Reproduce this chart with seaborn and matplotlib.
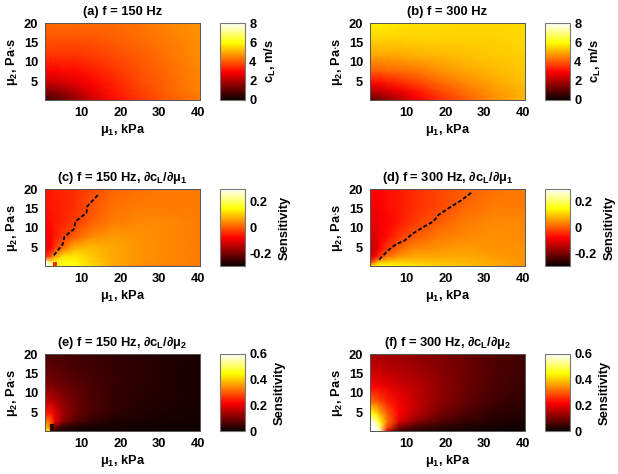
import numpy as np
import pandas as pd
import matplotlib
matplotlib.use("Agg")
import matplotlib.pyplot as plt
import seaborn as sns

sns.set_style("white")
plt.rcParams.update({
    "font.family": ["Liberation Sans", "DejaVu Sans"],
    "font.weight": "bold",
    "text.color": "black",
    "axes.labelcolor": "black",
    "xtick.color": "black",
    "ytick.color": "black",
    "mathtext.fontset": "custom",
    "mathtext.rm": "Liberation Sans:bold",
    "mathtext.sf": "Liberation Sans",
    "mathtext.it": "Liberation Sans:italic:bold",
    "mathtext.bf": "Liberation Sans:bold",
    "mathtext.default": "rm",
    "axes.unicode_minus": False,
})

mu1_grid = [0.5, 2, 3, 5, 8, 12, 18, 25, 32, 40.5]
mu2_grid = [0.5, 1.5, 3, 5, 8, 12, 16, 20.5]

vals_a = [
    [0.7, 0.9, 1.0, 1.2, 1.6, 2.3, 3.0, 3.5, 4.0, 4.4],
    [1.0, 1.1, 1.2, 1.4, 1.8, 2.4, 3.1, 3.6, 4.0, 4.4],
    [1.5, 1.5, 1.6, 1.8, 2.1, 2.6, 3.2, 3.7, 4.1, 4.5],
    [2.2, 2.2, 2.3, 2.4, 2.6, 2.9, 3.3, 3.8, 4.1, 4.5],
    [2.9, 2.9, 2.9, 3.0, 3.0, 3.2, 3.5, 3.9, 4.2, 4.5],
    [3.5, 3.5, 3.5, 3.5, 3.5, 3.6, 3.8, 4.0, 4.3, 4.6],
    [3.9, 3.9, 3.9, 3.9, 3.9, 3.9, 4.0, 4.2, 4.4, 4.6],
    [4.2, 4.2, 4.2, 4.2, 4.2, 4.2, 4.2, 4.3, 4.5, 4.7],
]
vals_b = [
    [0.9, 1.1, 1.3, 1.6, 2.1, 2.7, 3.4, 4.0, 4.6, 5.1],
    [1.5, 1.6, 1.7, 1.9, 2.3, 2.9, 3.5, 4.1, 4.6, 5.1],
    [2.2, 2.2, 2.3, 2.5, 2.8, 3.2, 3.8, 4.3, 4.7, 5.1],
    [3.0, 3.0, 3.0, 3.2, 3.4, 3.7, 4.1, 4.5, 4.9, 5.2],
    [4.0, 4.0, 4.0, 4.1, 4.2, 4.3, 4.6, 4.9, 5.1, 5.3],
    [4.9, 4.9, 4.9, 4.9, 4.9, 5.0, 5.1, 5.2, 5.3, 5.4],
    [5.4, 5.4, 5.4, 5.4, 5.4, 5.4, 5.4, 5.4, 5.4, 5.5],
    [5.8, 5.8, 5.8, 5.8, 5.7, 5.6, 5.6, 5.5, 5.5, 5.5],
]
vals_c = [
    [.30, .30, .15, .16, .16, .12, .07, .04, .03, .03],
    [.30, .20, .16, .16, .15, .11, .07, .05, .04, .03],
    [-.05, .00, .06, .12, .13, .10, .07, .05, .04, .03],
    [-.10, -.08, -.03, .02, .08, .09, .07, .05, .04, .03],
    [-.09, -.08, -.06, -.03, .00, .04, .06, .05, .04, .03],
    [-.08, -.07, -.06, -.05, -.03, .00, .03, .04, .04, .03],
    [-.07, -.06, -.06, -.05, -.04, -.01, .02, .03, .03, .03],
    [-.06, -.06, -.05, -.05, -.04, -.02, .01, .02, .03, .03],
]
vals_d = [
    [.12, .15, .16, .15, .14, .13, .11, .09, .07, .05],
    [-.04, .05, .10, .11, .11, .10, .09, .08, .07, .05],
    [-.12, -.08, -.03, .02, .05, .07, .07, .07, .06, .05],
    [-.13, -.12, -.08, -.03, .01, .04, .05, .06, .05, .05],
    [-.12, -.11, -.09, -.07, -.03, .00, .03, .04, .05, .04],
    [-.10, -.10, -.09, -.08, -.06, -.03, .00, .03, .04, .04],
    [-.09, -.09, -.08, -.07, -.06, -.04, -.02, .01, .03, .03],
    [-.08, -.08, -.08, -.07, -.06, -.04, -.02, .00, .02, .03],
]
vals_e = [
    [.42, .42, .05, .02, .01, .01, .01, .005, .005, .005],
    [.42, .30, .09, .03, .02, .01, .01, .005, .005, .005],
    [.34, .30, .20, .12, .07, .04, .02, .015, .01, .01],
    [.24, .24, .20, .14, .09, .06, .035, .02, .015, .01],
    [.17, .17, .15, .12, .09, .065, .04, .025, .02, .015],
    [.11, .11, .10, .09, .075, .06, .04, .03, .02, .015],
    [.08, .08, .075, .07, .06, .05, .04, .03, .02, .015],
    [.06, .06, .055, .055, .05, .045, .035, .03, .02, .015],
]
vals_f = [
    [.60, .60, .55, .18, .05, .03, .015, .01, .005, .005],
    [.60, .60, .52, .28, .10, .06, .035, .02, .01, .005],
    [.60, .54, .45, .32, .19, .12, .07, .04, .025, .015],
    [.46, .44, .38, .30, .22, .16, .10, .06, .035, .025],
    [.32, .31, .29, .25, .21, .17, .12, .08, .05, .03],
    [.22, .22, .21, .20, .18, .16, .125, .09, .06, .04],
    [.17, .17, .17, .16, .15, .14, .115, .09, .065, .045],
    [.14, .14, .14, .135, .13, .12, .105, .085, .065, .05],
]

# small odd cells near the origin
spot_c_x, spot_c_y, spot_c_v = [2.55, 3.6], [0.5, 1.6], [[-0.04]]
spot_e_x, spot_e_y, spot_e_v = [1.7, 2.7], [0.5, 2.3], [[0.03]]

# zero-sensitivity contours
zero_c_x = [2.8, 5.1, 5.5, 7.9, 8.4, 11.2, 11.4, 14.3]
zero_c_y = [3.3, 6.2, 8.1, 10.0, 12.1, 14.3, 16.0, 19.1]
zero_d_x = [2.9, 5.2, 7.3, 9.4, 11.5, 14.4, 16.9, 18.2, 21.1, 24.1, 27.0]
zero_d_y = [2.2, 4.6, 6.2, 7.1, 8.9, 10.7, 12.1, 13.8, 15.7, 17.6, 19.8]

MU = r"$\mathsf{\mu}$"
PD = r"$\mathsf{\partial}$"
title_c = "(c) f = 150 Hz, " + PD + r"c$_{\mathrm{L}}$" + r"$\mathsf{/\partial\mu}_{\mathrm{1}}$"
title_d = "(d) f = 300 Hz, " + PD + r"c$_{\mathrm{L}}$" + r"$\mathsf{/\partial\mu}_{\mathrm{1}}$"
title_e = "(e) f = 150 Hz, " + PD + r"c$_{\mathrm{L}}$" + r"$\mathsf{/\partial\mu}_{\mathrm{2}}$"
title_f = "(f) f = 300 Hz, " + PD + r"c$_{\mathrm{L}}$" + r"$\mathsf{/\partial\mu}_{\mathrm{2}}$"
speed_label = r"c$_{\mathrm{L}}$, m/s"
sens_label = "Sensitivity"

W, H = 618, 474
fig = plt.figure(figsize=(W / 100, H / 100), dpi=100)


def panel(px, py, vals, vmin, vmax, ticks, ticklabels, title, clabel,
          line=None, spot=None):
    ax = fig.add_axes([px / W, 1 - (py + 77) / H, 155 / W, 77 / H])
    cax = fig.add_axes([(px + 175) / W, 1 - (py + 77) / H, 25 / W, 77 / H])
    df = pd.DataFrame(vals, index=mu2_grid, columns=mu1_grid)
    sns.heatmap(df, ax=ax, cbar_ax=cax, cmap="hot", vmin=vmin, vmax=vmax,
                cbar_kws={"ticks": ticks})
    mesh = ax.collections[0]
    cb = mesh.colorbar
    mesh.set_visible(False)
    ax.pcolormesh(mu1_grid, mu2_grid, df.to_numpy(), shading="gouraud",
                  cmap="hot", vmin=vmin, vmax=vmax)
    if spot is not None:
        ax.pcolormesh(spot[0], spot[1], spot[2], shading="flat",
                      cmap="hot", vmin=vmin, vmax=vmax)
    if line is not None:
        sns.lineplot(x=line[0], y=line[1], ax=ax, color="black", lw=1.3,
                     linestyle=(0, (2.2, 1.2)), sort=False, errorbar=None,
                     estimator=None)
    ax.set_xlim(0.5, 40.5)
    ax.set_ylim(0.5, 20.5)
    ax.set_xticks([10, 20, 30, 40], ["10", "20", "30", "40"], rotation=0)
    ax.set_yticks([5, 10, 15, 20], ["5", "10", "15", "20"], rotation=0)
    ax.tick_params(axis="both", length=0, labelsize=9.3, pad=5)
    ax.set_xlabel(MU + r"$_{\mathrm{1}}$, kPa", fontsize=9.3, fontweight="bold", labelpad=2)
    ax.set_ylabel(MU + r"$_{\mathrm{2}}$, Pa$\cdot$s", fontsize=9.3, fontweight="bold", labelpad=3)
    ax.set_title(title, fontsize=9.3, fontweight="bold", pad=5.5)
    for s in ax.spines.values():
        s.set_visible(True)
        s.set_linewidth(0.7)
        s.set_color("#555555")
    cb.set_ticks(ticks, labels=ticklabels)
    cb.outline.set_linewidth(0.8)
    cb.outline.set_edgecolor("#777777")
    cax.tick_params(length=0, labelsize=9.3, pad=3)
    cax.set_ylabel(clabel, fontsize=9.3, fontweight="bold", labelpad=5)


speed_ticks = [0, 2, 4, 6, 8]
speed_labels = ["0", "2", "4", "6", "8"]
s1_ticks = [-0.2, 0, 0.2]
s1_labels = ["-0.2", "0", "0.2"]
s2_ticks = [0, 0.2, 0.4, 0.6]
s2_labels = ["0", "0.2", "0.4", "0.6"]

panel(45, 23, vals_a, 0, 8, speed_ticks, speed_labels, "(a) f = 150 Hz", speed_label)
panel(370, 23, vals_b, 0, 8, speed_ticks, speed_labels, "(b) f = 300 Hz", speed_label)
panel(45, 189, vals_c, -0.3, 0.3, s1_ticks, s1_labels, title_c, sens_label,
      line=(zero_c_x, zero_c_y), spot=(spot_c_x, spot_c_y, spot_c_v))
panel(370, 189, vals_d, -0.3, 0.3, s1_ticks, s1_labels, title_d, sens_label,
      line=(zero_d_x, zero_d_y))
panel(45, 354, vals_e, 0, 0.6, s2_ticks, s2_labels, title_e, sens_label,
      spot=(spot_e_x, spot_e_y, spot_e_v))
panel(370, 354, vals_f, 0, 0.6, s2_ticks, s2_labels, title_f, sens_label)

fig.savefig("out.png", dpi=100)
